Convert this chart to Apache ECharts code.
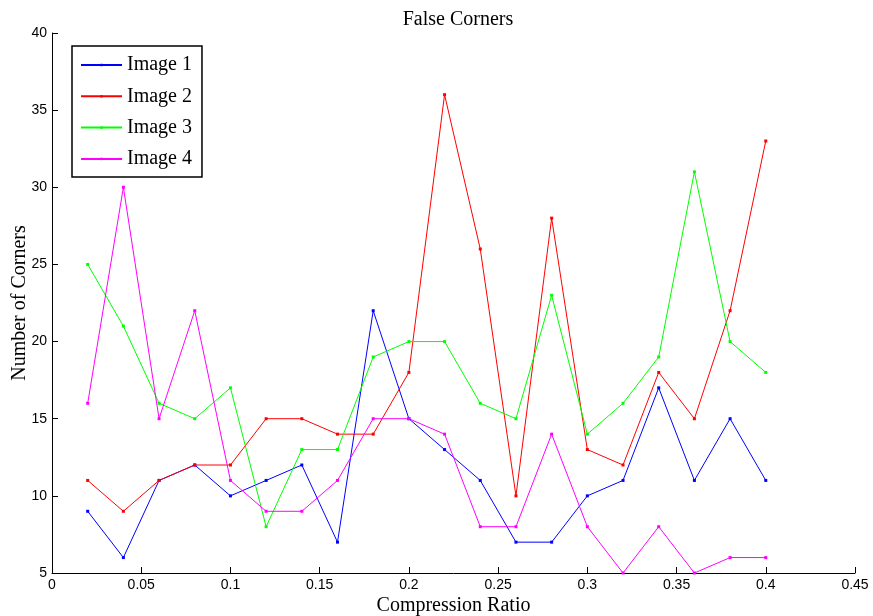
<!DOCTYPE html>
<html>
<head>
<meta charset="utf-8">
<script src="https://cdn.jsdelivr.net/npm/echarts@6/dist/echarts.min.js"></script>
<style>
  html, body { margin: 0; padding: 0; background: #fff; }
  #chart { width: 873px; height: 616px; }
</style>
</head>
<body>
<div id="chart"></div>
<script>
// Compression ratios tested
const ratios = [0.02, 0.04, 0.06, 0.08, 0.10, 0.12, 0.14, 0.16, 0.18, 0.20,
                0.22, 0.24, 0.26, 0.28, 0.30, 0.32, 0.34, 0.36, 0.38, 0.40];

// False corner counts per image
const image1 = [9, 6, 11, 12, 10, 11, 12, 7, 22, 15, 13, 11, 7, 7, 10, 11, 17, 11, 15, 11];
const image2 = [11, 9, 11, 12, 12, 15, 15, 14, 14, 18, 36, 26, 10, 28, 13, 12, 18, 15, 22, 33];
const image3 = [25, 21, 16, 15, 17, 8, 13, 13, 19, 20, 20, 16, 15, 23, 14, 16, 19, 31, 20, 18];
const image4 = [16, 30, 15, 22, 11, 9, 9, 11, 15, 15, 14, 8, 8, 14, 8, 5, 8, 5, 6, 6];

const seriesNames = ['Image 1', 'Image 2', 'Image 3', 'Image 4'];
const seriesColors = ['#0000ff', '#ff0000', '#00ff00', '#ff00ff'];
const seriesData = [image1, image2, image3, image4];

const serif = '"Liberation Serif", "DejaVu Serif", serif';
const sans = '"Liberation Sans", Arial, sans-serif';

const chart = echarts.init(document.getElementById('chart'), null, { renderer: 'canvas' });

chart.setOption({
  animation: false,
  backgroundColor: '#ffffff',
  title: {
    text: 'False Corners',
    left: 453,
    textAlign: 'center',
    top: 5,
    textStyle: { fontFamily: serif, fontWeight: 'normal', fontSize: 20, color: '#000' }
  },
  legend: {
    orient: 'vertical',
    left: 72,
    top: 46,
    padding: [9, 10, 8, 8],
    itemWidth: 41,
    itemHeight: 3,
    itemGap: 11.3,
    backgroundColor: '#fff',
    borderColor: '#000',
    borderWidth: 1.5,
    textStyle: { fontFamily: serif, fontSize: 20, color: '#000' },
    data: seriesNames
  },
  grid: { left: 52, right: 18, top: 33, bottom: 43, containLabel: false, outerBoundsMode: 'none' },
  xAxis: {
    type: 'value',
    min: 0,
    max: 0.45,
    interval: 0.05,
    name: 'Compression Ratio',
    nameLocation: 'middle',
    nameGap: 23,
    nameMoveOverlap: false,
    nameTextStyle: { fontFamily: serif, fontSize: 20, color: '#000' },
    axisLine: { lineStyle: { color: '#000', width: 1 } },
    axisTick: { inside: true, length: 6, lineStyle: { color: '#000' } },
    axisLabel: {
      fontFamily: sans, fontSize: 14, color: '#000', margin: 5,
      formatter: v => String(Number(v.toFixed(2)))
    },
    splitLine: { show: false }
  },
  yAxis: {
    type: 'value',
    min: 5,
    max: 40,
    interval: 5,
    name: 'Number of Corners',
    nameLocation: 'middle',
    nameGap: 22,
    nameMoveOverlap: false,
    nameTextStyle: { fontFamily: serif, fontSize: 20, color: '#000' },
    axisLine: { show: true, lineStyle: { color: '#000', width: 1 } },
    axisTick: { show: true, inside: true, length: 6, lineStyle: { color: '#000' } },
    axisLabel: { fontFamily: sans, fontSize: 14, color: '#000', margin: 5 },
    splitLine: { show: false }
  },
  series: seriesNames.map((name, i) => ({
    name: name,
    type: 'line',
    data: ratios.map((r, j) => [r, seriesData[i][j]]),
    color: seriesColors[i],
    symbol: 'rect',
    symbolSize: 3,
    showAllSymbol: true,
    lineStyle: { width: 1, color: seriesColors[i] },
    itemStyle: { color: seriesColors[i] },
    clip: false
  }))
});
</script>
</body>
</html>
